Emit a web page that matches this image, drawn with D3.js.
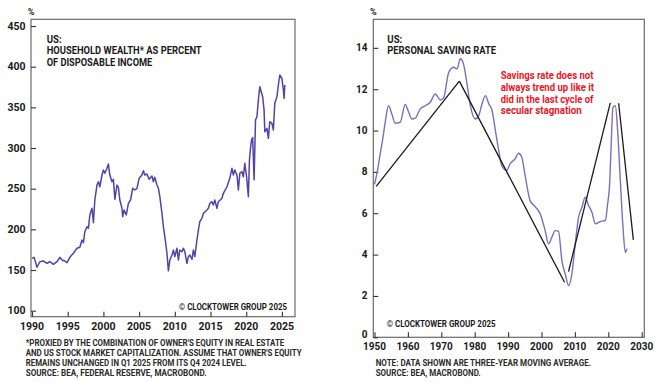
<!DOCTYPE html>
<html><head><meta charset="utf-8">
<script src="https://cdn.jsdelivr.net/npm/d3@7"></script>
<style>
html,body{margin:0;padding:0;background:#fff;}
svg{display:block;font-family:Roboto,'Liberation Sans',sans-serif;font-weight:700;}
</style></head>
<body>
<script>
// ---------- DATA ----------
const wealthYears = [1990.0,1990.3,1990.7,1991.1,1991.6,1992.1,1992.5,1993.0,1993.5,1993.9,1994.2,1994.6,1994.9,1995.3,1995.8,1996.3,1996.7,1997.0,1997.2,1997.4,1997.7,1997.9,1998.1,1998.4,1998.6,1998.8,1999.1,1999.3,1999.5,1999.8,2000.0,2000.2,2000.5,2000.7,2000.9,2001.2,2001.4,2001.6,2001.9,2002.1,2002.3,2002.6,2002.7,2002.9,2003.2,2003.5,2003.8,2004.1,2004.4,2004.7,2005.0,2005.4,2005.6,2005.8,2006.1,2006.4,2006.8,2007.0,2007.2,2007.5,2007.7,2007.9,2008.2,2008.4,2008.6,2008.9,2009.1,2009.3,2009.6,2009.8,2010.0,2010.3,2010.5,2010.7,2011.0,2011.2,2011.4,2011.7,2011.9,2012.1,2012.4,2012.6,2012.8,2013.1,2013.3,2013.5,2013.8,2014.0,2014.5,2014.7,2014.9,2015.2,2015.4,2015.6,2015.9,2016.1,2016.6,2016.8,2017.3,2017.7,2018.0,2018.2,2018.4,2018.7,2018.9,2019.1,2019.4,2019.6,2019.8,2020.05,2020.3,2020.45,2020.6,2020.75,2020.9,2021.1,2021.3,2021.5,2021.7,2021.9,2022.1,2022.3,2022.5,2022.6,2022.9,2023.1,2023.3,2023.6,2023.8,2024.0,2024.3,2024.5,2024.7,2025.0,2025.2,2025.3,2025.4];
const wealthValues = [164.4,165.6,153.4,160.2,161.1,158.3,160.2,157,160.2,165.6,162.3,161.1,159,165.6,170.6,176.7,177.9,186.9,183.6,197.1,203.3,201.3,217.7,225.9,208.2,236.1,254.5,258.6,252.4,266.8,273,268.9,275.1,280.3,266.8,258.6,261.5,237,254.5,251.5,236.1,225.9,215.6,223.8,217.7,232,236.1,250.5,248.4,250.5,262.8,266.8,272.1,266.8,268.1,261.5,265.6,258.6,264,254.5,250.5,240.2,219.7,203.3,191,170.6,149,162.3,168.5,174.6,166.4,176.7,162.3,174.6,172.5,176.7,172.5,158.3,166.4,168.5,163.2,174.6,166.4,186.9,199,209.4,213.6,219.7,223.8,225.9,232,234,229.9,236.1,225.9,234,238.2,244.3,252.4,262.8,275.1,266.8,273,266.8,248.4,268.9,270.9,264.7,281.2,264.7,240.2,285.3,300,310,313,261,334.4,338.5,359,375.4,369.2,363.1,346.7,320,324.2,311.9,332.4,330.4,322.2,355,363.1,377.5,389.8,385.7,371.3,361.1,377.5];

const savingYears = [1950.0,1950.7,1951.7,1952.7,1953.2,1954.2,1955.2,1956.2,1957.7,1959.2,1960.2,1961.2,1962.2,1963.7,1965.2,1966.7,1968.2,1969.7,1970.7,1972.2,1973.7,1974.7,1975.7,1976.5,1977.7,1978.7,1980.2,1981.2,1982.2,1983.2,1984.2,1985.2,1986.2,1987.2,1988.1,1989.6,1990.6,1992.1,1993.1,1994.1,1995.1,1996.6,1998.1,1999.6,2001.1,2002.1,2003.1,2004.1,2005.1,2006.1,2007.1,2008.1,2009.1,2010.1,2011.1,2012.1,2013.1,2014.1,2015.1,2016.1,2017.6,2019.1,2019.8,2020.4,2020.8,2021.4,2022.1,2022.8,2023.6,2024.4,2025.1,2025.6];
const savingValues = [7.4,7.9,8.87,9.84,10.4,11.2,10.8,10.35,10.4,11.26,10.9,10.56,10.6,11.05,11.2,11.37,11.77,11.48,11.58,12.8,13.06,12.98,13.47,13.3,12.26,11.2,10.56,10.72,11.3,11.69,11.3,10.97,10.0,9.03,8.3,8.07,8.39,8.63,8.9,8.71,7.82,6.61,6.32,5.97,5.16,4.52,4.84,5.16,5.13,3.71,3.07,2.5,3.07,4.52,5.8,6.29,6.77,6.37,6.05,5.49,5.6,5.65,6.45,7.42,9.03,11.13,11.2,10.0,7.58,5.32,4.11,4.28];

// trend segments
const trendStartYears = [1950.5, 1975.4, 2008.1, 2023.1];
const trendStartValues = [7.30, 12.39, 3.18, 11.32];
const trendEndYears = [1975.4, 2006.9, 2020.6, 2027.5];
const trendEndValues = [12.39, 2.66, 11.34, 4.71];

const wealthYTicks = [100,150,200,250,300,350,400,450];
const wealthXTicks = [1990,1995,2000,2005,2010,2015,2020,2025];
const savingYTicks = [0,2,4,6,8,10,12,14];
const savingXTicks = [1950,1960,1970,1980,1990,2000,2010,2020,2030];

const leftTitle = ["US:", "HOUSEHOLD WEALTH* AS PERCENT", "OF DISPOSABLE INCOME"];
const rightTitle = ["US:", "PERSONAL SAVING RATE"];
const annotation = ["Savings rate does not", "always trend up like it", "did in the last cycle of", "secular stagnation"];
const leftNotes = ["*PROXIED BY THE COMBINATION OF OWNER'S EQUITY IN REAL ESTATE","AND US STOCK MARKET CAPITALIZATION. ASSUME THAT OWNER'S EQUITY","REMAINS UNCHANGED IN Q1 2025 FROM ITS Q4 2024 LEVEL.","SOURCE: BEA, FEDERAL RESERVE, MACROBOND."];
const rightNotes = ["NOTE: DATA SHOWN ARE THREE-YEAR MOVING AVERAGE.","SOURCE: BEA, MACROBOND."];
const copyright = "\u00A9 CLOCKTOWER GROUP 2025";

// ---------- DRAW ----------
const W = 660, H = 382;
const svg = d3.select("body").append("svg").attr("width", W).attr("height", H);

function txt(g, s, x, y, o) {
  o = o || {};
  const t = g.append("text").attr("x", x).attr("y", y).text(s)
    .attr("font-size", o.size || 10).attr("fill", o.fill || "#1a1a1a")
    .attr("text-anchor", o.anchor || "start").attr("dominant-baseline", "central");
  if (o.len) t.attr("textLength", o.len).attr("lengthAdjust", "spacingAndGlyphs");
  return t;
}

function panel(cfg) {
  const g = svg.append("g");
  const x = d3.scaleLinear().domain(cfg.xDomain).range([cfg.x0, cfg.x1]);
  const y = d3.scaleLinear().domain(cfg.yDomain).range([cfg.y1, cfg.y0]);
  g.append("rect").attr("x", cfg.x0).attr("y", cfg.y0).attr("width", cfg.x1 - cfg.x0)
    .attr("height", cfg.y1 - cfg.y0).attr("fill", "none").attr("stroke", "#6a6a6a").attr("stroke-width", 1.2);
  const ya = d3.axisRight(y).tickValues(cfg.yTicks).tickSize(5).tickFormat("");
  const yg = g.append("g").attr("transform", `translate(${cfg.x0},0)`).call(ya);
  const xa = d3.axisTop(x).tickValues(cfg.xTicks).tickSize(5).tickFormat("");
  const xg = g.append("g").attr("transform", `translate(0,${cfg.y1})`).call(xa);
  [yg, xg].forEach(a => { a.select(".domain").remove(); a.selectAll("line").attr("stroke", "#333").attr("stroke-width", 1.1); });
  cfg.yTicks.forEach((v, i) => txt(g, String(v), cfg.yLabelX, y(v) - (i === 0 ? cfg.firstShift : 0), { anchor: "end", size: cfg.fs }));
  cfg.xTicks.forEach(v => txt(g, String(v), x(v), cfg.xLabelY, { anchor: "middle", size: cfg.fs }));
  txt(g, "%", cfg.x0, 12, { anchor: "middle", size: 9 });
  return { g, x, y };
}

// Left panel
const L = panel({ x0: 31, x1: 295, y0: 19.3, y1: 316.7, xDomain: [1989.86, 2026.83], yDomain: [92.6, 458.3],
  yTicks: wealthYTicks, xTicks: wealthXTicks, yLabelX: 25.5, xLabelY: 326.5, fs: 10.5, firstShift: 0 });
L.g.append("path").datum(wealthYears.map((d, i) => [d, wealthValues[i]]))
  .attr("d", d3.line().x(d => L.x(d[0])).y(d => L.y(d[1])))
  .attr("fill", "none").attr("stroke", "#5243a8").attr("stroke-width", 1.5).attr("stroke-linejoin", "round");
txt(L.g, leftTitle[0], 46.7, 39, { size: 10, len: 15 });
txt(L.g, leftTitle[1], 46.7, 50.7, { size: 10, len: 155 });
txt(L.g, leftTitle[2], 46.7, 62.3, { size: 10, len: 105.6 });
txt(L.g, copyright, 179, 307.3, { size: 9, len: 108 });
const lnLens = [258.6, 276, 221, 181];
leftNotes.forEach((s, i) => txt(L.g, s, 25.7, [342.7, 352.9, 363.1, 373.2][i], { size: 8.3, len: lnLens[i], fill: "#2a2a2a" }));

// Right panel
const R = panel({ x0: 373.3, x1: 644.3, y0: 19.3, y1: 337.3, xDomain: [1949.64, 2030.78], yDomain: [0, 15.38],
  yTicks: savingYTicks, xTicks: savingXTicks, yLabelX: 367.5, xLabelY: 346.5, fs: 10, firstShift: 2.8 });
R.g.append("path").datum(savingYears.map((d, i) => [d, savingValues[i]]))
  .attr("d", d3.line().x(d => R.x(d[0])).y(d => R.y(d[1])).curve(d3.curveMonotoneX))
  .attr("fill", "none").attr("stroke", "#7a6fc2").attr("stroke-width", 1.4);
trendStartYears.forEach((sy, i) => {
  R.g.append("line").attr("x1", R.x(sy)).attr("y1", R.y(trendStartValues[i]))
    .attr("x2", R.x(trendEndYears[i])).attr("y2", R.y(trendEndValues[i]))
    .attr("stroke", "#1a1a1a").attr("stroke-width", 1.3);
});
txt(R.g, rightTitle[0], 387.3, 39, { size: 10, len: 15 });
txt(R.g, rightTitle[1], 387.3, 50.7, { size: 10, len: 108.7 });
const anLens = [92.7, 93.3, 92.7, 81];
annotation.forEach((s, i) => txt(R.g, s, 500.7, [75, 87, 99, 110.7][i], { size: 10, len: anLens[i], fill: "#f0141e" }));
txt(R.g, copyright, 386.7, 324, { size: 9, len: 109 });
const rnLens = [215.3, 105];
rightNotes.forEach((s, i) => txt(R.g, s, 375.7, [362.7, 372.7][i], { size: 8.3, len: rnLens[i], fill: "#2a2a2a" }));
</script>
</body></html>
